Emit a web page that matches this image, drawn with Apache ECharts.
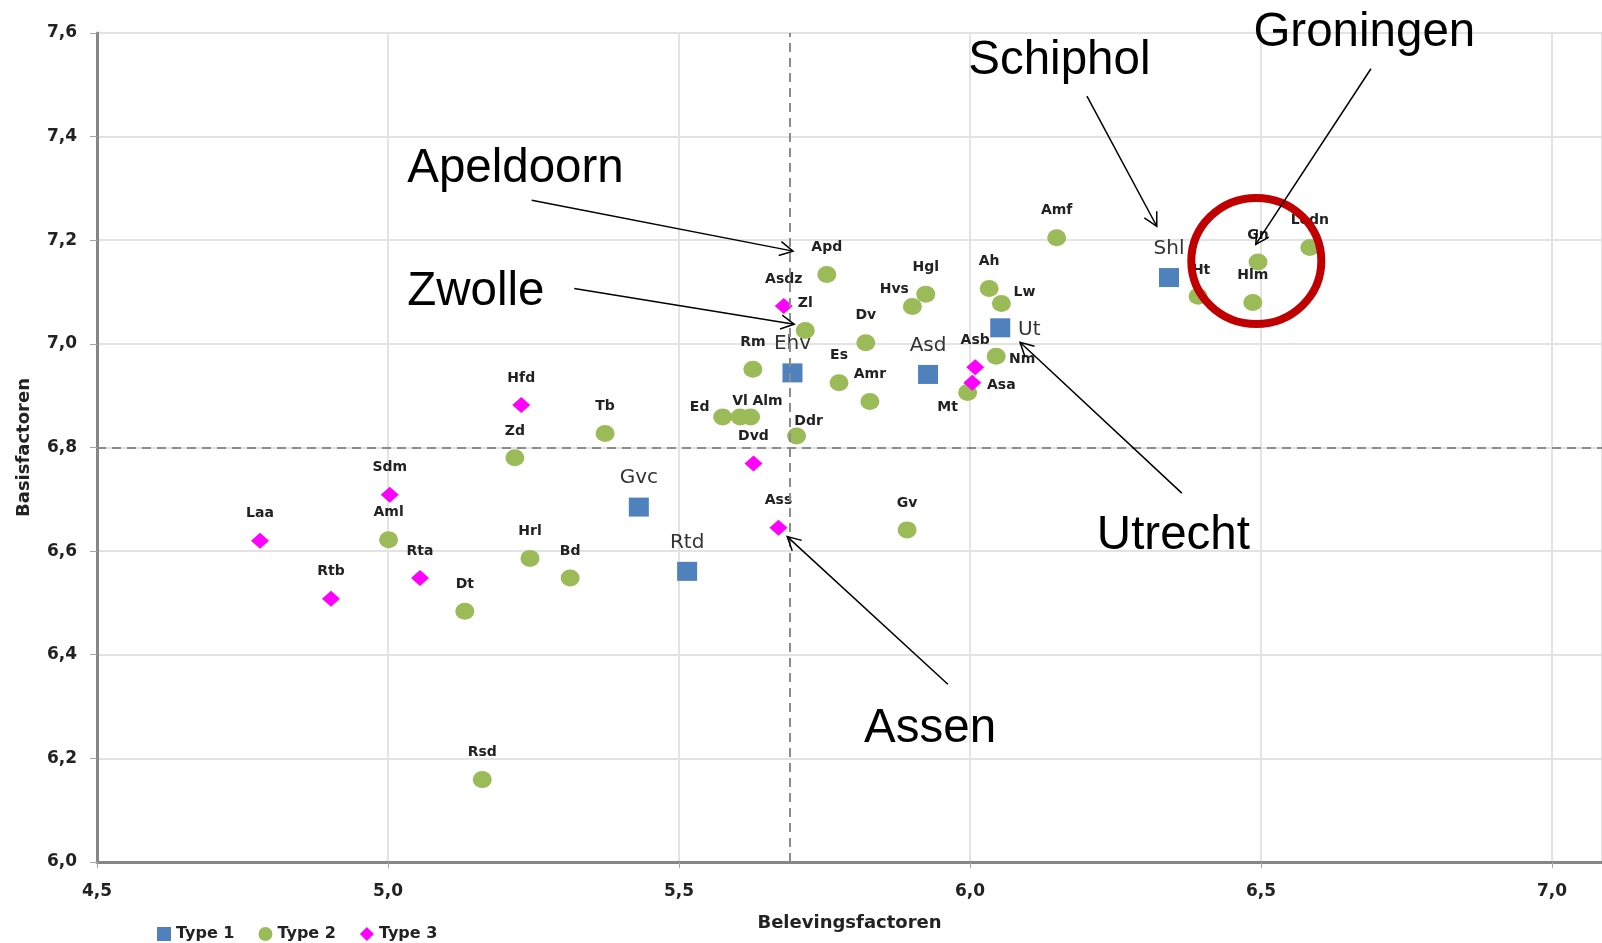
<!DOCTYPE html>
<html>
<head>
<meta charset="UTF-8">
<title>Basisfactoren vs Belevingsfactoren</title>
<script src="https://cdn.jsdelivr.net/npm/echarts@6/dist/echarts.min.js"></script>
<style>
  html, body { margin: 0; padding: 0; background: #fff; overflow: hidden; }
  #chart { width: 1602px; height: 943px; }
</style>
<script>
// stations, type 1 (blue squares)
var type1Names = ['Shl', 'Ut', 'Asd', 'Ehv', 'Gvc', 'Rtd'];
var type1X = [6.342, 6.052, 5.928, 5.695, 5.431, 5.514];
var type1Y = [7.128, 7.031, 6.941, 6.944, 6.685, 6.561];

// type 2 (green circles)
var type2Names = ['Amf', 'Apd', 'Zl', 'Dv', 'Hgl', 'Hvs', 'Ah', 'Lw', 'Nm', 'Mt', 'Rm', 'Es', 'Amr', 'Ddr', 'Ed',
  'Vl', 'Alm', 'Tb', 'Zd', 'Aml', 'Hrl', 'Bd', 'Dt', 'Rsd', 'Gv', 'Ht', 'Gn', 'Hlm', 'Ledn'];
var type2X = [6.149, 5.754, 5.717, 5.821, 5.924, 5.901, 6.033, 6.054, 6.045, 5.996, 5.627, 5.775, 5.828, 5.702, 5.575,
  5.605, 5.623, 5.373, 5.218, 5.001, 5.244, 5.313, 5.132, 5.162, 5.892, 6.392, 6.495, 6.486, 6.584];
var type2Y = [7.205, 7.134, 7.026, 7.002, 7.096, 7.072, 7.107, 7.078, 6.976, 6.906, 6.951, 6.925, 6.889, 6.822, 6.859,
  6.859, 6.859, 6.827, 6.780, 6.622, 6.586, 6.548, 6.484, 6.159, 6.641, 7.092, 7.158, 7.080, 7.186];

// type 3 (magenta diamonds)
var type3Names = ['Asdz', 'Asb', 'Asa', 'Dvd', 'Ass', 'Hfd', 'Sdm', 'Laa', 'Rta', 'Rtb'];
var type3X = [5.680, 6.009, 6.004, 5.628, 5.671, 5.229, 5.003, 4.780, 5.055, 4.902];
var type3Y = [7.073, 6.955, 6.925, 6.769, 6.645, 6.882, 6.709, 6.620, 6.548, 6.508];

// averages (dashed lines)
var meanX = 5.687;
var meanY = 6.8;

var xTicks = [4.5, 5.0, 5.5, 6.0, 6.5, 7.0];
var yTicks = [6.0, 6.2, 6.4, 6.6, 6.8, 7.0, 7.2, 7.4, 7.6];

// call-outs, in data units: text anchor, arrow start, arrow tip
var notes = [
  { text: 'Apeldoorn', at: [5.033, 7.338], from: [5.247, 7.277], to: [5.696, 7.179] },
  { text: 'Zwolle', at: [5.033, 7.101], from: [5.320, 7.107], to: [5.698, 7.038] },
  { text: 'Schiphol', at: [5.997, 7.546], from: [6.201, 7.478], to: [6.321, 7.227] },
  { text: 'Groningen', at: [6.487, 7.601], from: [6.689, 7.531], to: [6.491, 7.192] },
  { text: 'Utrecht', at: [6.218, 6.630], from: [6.364, 6.712], to: [6.086, 7.003] },
  { text: 'Assen', at: [5.818, 6.257], from: [5.962, 6.343], to: [5.686, 6.628] }
];
var ringCenter = [6.492, 7.160];
</script>
</head>
<body>
<div id="chart"></div>
<script>
var chart = echarts.init(document.getElementById('chart'));

// label nudges (px) for labels that are not straight above the marker
var labelShift = {
  Hvs: [-18, -17], Lw: [23, -11], Ut: [29, 2], Nm: [26, 3], Asa: [29, 3], Mt: [-20, 15],
  Ed: [-23, -10], Vl: [0, -16], Alm: [17, -16], Ddr: [12, -15], Ht: [3, -26]
};

function build(names, xs, ys, up) {
  var out = [];
  for (var i = 0; i < names.length; i++) {
    out.push({
      name: names[i],
      value: [xs[i], ys[i]],
      label: { offset: labelShift[names[i]] || [0, up] }
    });
  }
  return out;
}

function fmt(v) {
  return v.toFixed(1).replace('.', ',');
}

var smallLabel = {
  show: true,
  position: 'inside',
  formatter: '{b}',
  fontFamily: 'DejaVu Sans',
  fontWeight: 'bold',
  fontSize: 14,
  color: '#222'
};

var option = {
  animation: false,
  backgroundColor: '#fff',
  grid: { left: 97, right: 0, top: 33, bottom: 81 },
  legend: {
    left: 152,
    top: 921,
    itemWidth: 14,
    itemHeight: 14,
    itemGap: 24,
    textStyle: { fontFamily: 'DejaVu Sans', fontWeight: 'bold', fontSize: 16, color: '#222' },
    data: [
      { name: 'Type 1', icon: 'rect' },
      { name: 'Type 2', icon: 'circle' },
      { name: 'Type 3', icon: 'diamond' }
    ]
  },
  xAxis: {
    type: 'value',
    min: 4.5,
    max: 7.086,
    interval: 0.5,
    name: 'Belevingsfactoren',
    nameLocation: 'middle',
    nameGap: 52,
    nameTextStyle: { fontFamily: 'DejaVu Sans', fontWeight: 'bold', fontSize: 18, color: '#222' },
    axisLine: { lineStyle: { color: '#868686', width: 3 } },
    axisTick: { show: true, length: 6, lineStyle: { color: '#a6a6a6' } },
    axisLabel: {
      margin: 21,
      showMaxLabel: false,
      fontFamily: 'DejaVu Sans', fontWeight: 'bold', fontSize: 17, color: '#222',
      formatter: function (v) { return Math.abs(v * 2 - Math.round(v * 2)) < 1e-6 ? fmt(v) : ''; }
    },
    splitLine: { show: true, lineStyle: { color: '#e3e3e3', width: 2 } }
  },
  yAxis: {
    type: 'value',
    min: 6.0,
    max: 7.6,
    interval: 0.2,
    name: 'Basisfactoren',
    nameLocation: 'middle',
    nameGap: 64,
    nameTextStyle: { fontFamily: 'DejaVu Sans', fontWeight: 'bold', fontSize: 18, color: '#222' },
    axisLine: { show: true, lineStyle: { color: '#868686', width: 3 } },
    axisTick: { show: true, length: 7, lineStyle: { color: '#a6a6a6' } },
    axisLabel: {
      margin: 20,
      fontFamily: 'DejaVu Sans', fontWeight: 'bold', fontSize: 17, color: '#222',
      formatter: function (v) { return fmt(v); }
    },
    splitLine: { show: true, lineStyle: { color: '#e3e3e3', width: 2 } }
  },
  series: [
    {
      name: 'Type 1',
      type: 'scatter',
      symbol: 'rect',
      symbolSize: [20, 19],
      itemStyle: { color: '#4f81bd', opacity: 1 },
      label: Object.assign({}, smallLabel, { fontWeight: 'normal', fontSize: 20, color: '#333' }),
      data: build(type1Names, type1X, type1Y, -29),
      markLine: {
        silent: true,
        symbol: ['none', 'none'],
        label: { show: false },
        lineStyle: { color: '#8c8c8c', type: [9, 6], width: 2 },
        data: [{ xAxis: meanX }, { yAxis: meanY }]
      },
      z: 3
    },
    {
      name: 'Type 2',
      type: 'scatter',
      symbol: 'circle',
      symbolSize: [19, 17],
      itemStyle: { color: '#9bbb59', opacity: 1 },
      label: smallLabel,
      data: build(type2Names, type2X, type2Y, -27),
      z: 3
    },
    {
      name: 'Type 3',
      type: 'scatter',
      symbol: 'diamond',
      symbolSize: [18, 16],
      itemStyle: { color: '#ff00ff', opacity: 1 },
      label: smallLabel,
      data: build(type3Names, type3X, type3Y, -27),
      z: 4
    }
  ]
};
chart.setOption(option);

// call-outs and ring, placed through the chart's own scales
function px(p) { return chart.convertToPixel({ gridIndex: 0 }, p); }

var graphics = [];
notes.forEach(function (n) {
  var a = px(n.at), f = px(n.from), t = px(n.to);
  graphics.push({
    type: 'text', x: a[0], y: a[1], z: 100,
    style: { text: n.text, font: '47.5px "Liberation Sans", Arial, sans-serif', fill: '#000', verticalAlign: 'middle', align: 'left' }
  });
  graphics.push({
    type: 'line', z: 100,
    shape: { x1: f[0], y1: f[1], x2: t[0], y2: t[1] },
    style: { stroke: '#000', lineWidth: 1.5 }
  });
  var dx = t[0] - f[0], dy = t[1] - f[1], len = Math.sqrt(dx * dx + dy * dy);
  var ux = dx / len, uy = dy / len, L = 15, ang = 28 * Math.PI / 180;
  var c = Math.cos(ang), s = Math.sin(ang);
  var h1 = [t[0] - L * (ux * c - uy * s), t[1] - L * (uy * c + ux * s)];
  var h2 = [t[0] - L * (ux * c + uy * s), t[1] - L * (uy * c - ux * s)];
  graphics.push({
    type: 'polyline', z: 100,
    shape: { points: [h1, t, h2] },
    style: { stroke: '#000', lineWidth: 1.5, fill: null }
  });
});
var rc = px(ringCenter);
graphics.push({
  type: 'ellipse', z: 90,
  shape: { cx: rc[0], cy: rc[1], rx: 65, ry: 63 },
  style: { fill: null, stroke: '#c00000', lineWidth: 8 }
});
chart.setOption({ graphic: graphics });
</script>
</body>
</html>
